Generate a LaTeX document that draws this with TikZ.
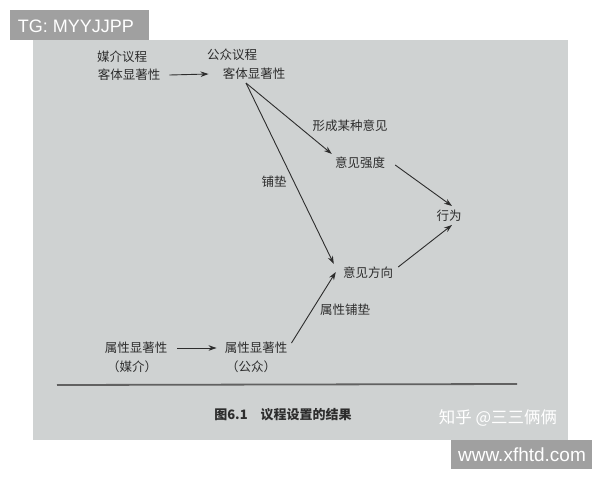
\documentclass[tikz,border=0pt]{standalone}
\usepackage{fontspec}
\setmainfont{Noto Sans CJK SC}
\newfontfamily\wmfont{Liberation Sans}
\usetikzlibrary{arrows.meta}
\definecolor{photo}{RGB}{207,210,210}
\definecolor{ink}{RGB}{45,45,45}
\definecolor{wmgray}{RGB}{160,160,160}
\tikzset{
  lbl/.style={inner sep=2pt, text=ink, font=\fontsize{12.5}{14}\selectfont},
  arr/.style={draw=ink, line width=0.9pt, -{Stealth[length=8pt,width=5.5pt]}},
  wmbox/.style={fill=wmgray, draw=none},
  wmtext/.style={text=white, inner sep=0pt}
}
\begin{document}
\begin{tikzpicture}[x=1pt,y=-1pt]
\useasboundingbox (0,0) rectangle (600,480);
\fill[white] (0,0) rectangle (600,480);
% photo area
\fill[photo] (33,40) rectangle (568,440);
% watermark boxes
\fill[wmbox] (10,10) rectangle (149,40);
\node[wmtext, font=\wmfont\fontsize{18}{20}\selectfont] (tg) at (76,26) {TG: MYYJJPP};
\fill[wmbox] (451,440) rectangle (592,469);
\node[wmtext, font=\wmfont\fontsize{19}{21}\selectfont] (www) at (522,455) {www.xfhtd.com};
% nodes
\node[lbl] (magenda) at (122,57) {媒介议程};
\node[lbl] (mobj) at (129,75) {客体显著性};
\node[lbl] (pagenda) at (232,55) {公众议程};
\node[lbl] (pobj) at (254,74) {客体显著性};
\node[lbl] (strength) at (360,163) {意见强度};
\node[lbl] (action) at (449,216) {行为};
\node[lbl] (direction) at (368,273) {意见方向};
\node[lbl] (mattr) at (136,348) {属性显著性};
\node[lbl] (mattrb) at (132,367) {（媒介）};
\node[lbl] (pattr) at (256,348) {属性显著性};
\node[lbl] (pattrb) at (251,367) {（公众）};
% edge labels
\node[lbl] (lform) at (350,126) {形成某种意见};
\node[lbl] (lpave) at (274,182) {铺垫};
\node[lbl] (lattr) at (345,310) {属性铺垫};
% connectors
\draw[arr] ([xshift=7pt]mobj.east) -- ([xshift=-12pt]pobj.west);
\draw[arr] ([xshift=-8pt,yshift=-1pt]pobj.south) -- ([xshift=-1pt,yshift=1pt]strength.north west);
\draw[arr] ([xshift=-8pt,yshift=-1pt]pobj.south) -- ([xshift=-7pt,yshift=1pt]direction.north west);
\draw[arr] ([xshift=8pt,yshift=-2pt]strength.east) -- ([xshift=3pt,yshift=2pt]action.north);
\draw[arr] ([xshift=3pt,yshift=6pt]direction.east) -- ([xshift=3pt,yshift=-1pt]action.south);
\draw[arr] ([xshift=2pt,yshift=-3pt]pattr.north east) -- ([xshift=-5pt,yshift=1pt]direction.west);
\draw[arr] ([xshift=8pt]mattr.east) -- ([xshift=-6pt]pattr.west);
% rule
\coordinate (ruleL) at (57,385);
\coordinate (ruleR) at (517,384);
\draw[draw=ink!75, line width=1.8pt] (ruleL) -- (ruleR);
% caption
\node[lbl, font=\bfseries\fontsize{13}{15}\selectfont] (caption) at (283,415) {图6.1\hspace{1em}议程设置的结果};
\node[wmtext, font=\fontsize{16.5}{18}\selectfont] (zhihu) at (498,418) {知乎 @三三俩俩};
\end{tikzpicture}
\end{document}
